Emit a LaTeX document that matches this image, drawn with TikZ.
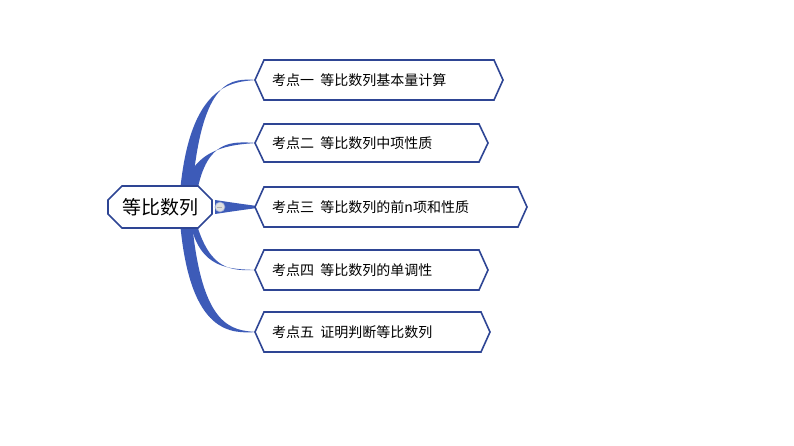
\documentclass[tikz,border=0pt]{standalone}
\usepackage{fontspec}
\newfontfamily\cjk{Noto Sans CJK SC}
\usetikzlibrary{shapes.misc}
\definecolor{br}{HTML}{3D5BB8}
\definecolor{bd}{HTML}{2E4594}
\tikzset{
  kid/.style={font=\cjk\fontsize{14}{16}\selectfont, anchor=west, inner sep=0pt},
  hexb/.style={draw=bd, line width=1.6pt, fill=white},
  br/.style={fill=br}
}
\newcommand{\hexat}[4]{% x1 x2 ycenter halfheight
  \path[hexb] (#1,#3) -- (#1+9,#3-#4) -- (#2-9,#3-#4) -- (#2,#3) -- (#2-9,#3+#4) -- (#1+9,#3+#4) -- cycle;}
\newcommand{\branch}[5]{% bx by tipx tipy halfwidth
  \fill[br] (#1-#5,#2) .. controls (#1-#5+10,#4+4) and (#3-25,#4+1.5) .. (#3,#4)
     .. controls (#3-25,#4-1.5) and (#1+#5+10,#4-4) .. (#1+#5,#2) -- cycle;}
\begin{document}
\begin{tikzpicture}[x=1pt,y=-1pt]
\useasboundingbox[fill=white] (0,0) rectangle (794,446);
% branches
\branch{186}{192}{257}{80}{6}
\branch{190}{192}{257}{143}{7}
\fill[br] (215,200) .. controls (235,203) .. (257,206) -- (257,208) .. controls (235,211) .. (215,214) -- cycle;
\fill[br] (190,222) .. controls (200,270) and (230,269) .. (257,270) .. controls (230,271) and (210,270) .. (196,222) -- cycle;
\branch{186}{222}{257}{332}{6}
% central
\node[chamfered rectangle, chamfered rectangle xsep=7pt, chamfered rectangle ysep=7pt, draw=bd, line width=1.6pt, fill=white, minimum width=104pt, minimum height=42pt, font=\cjk\fontsize{19}{22}\selectfont, inner sep=0pt] (c) at (160,207) {等比数列};
\node[circle, fill=gray!25, draw=br!60, line width=0.6pt, minimum size=10pt, inner sep=0pt] (k) at (220,207) {};
\draw[gray!60, line width=0.6pt] (k.west) ++(2.5,0) -- ++(5,0);
% children
\hexat{255}{503}{80}{20}
\hexat{255}{488}{143}{19}
\hexat{255}{527}{207}{20}
\hexat{255}{488}{270}{20}
\hexat{255}{490}{332}{20}
\node[kid] (k1) at (272,80) {考点一\ \ 等比数列基本量计算};
\node[kid] (k2) at (272,143) {考点二\ \ 等比数列中项性质};
\node[kid] (k3) at (272,207) {考点三\ \ 等比数列的前n项和性质};
\node[kid] (k4) at (272,270) {考点四\ \ 等比数列的单调性};
\node[kid] (k5) at (272,332) {考点五\ \ 证明判断等比数列};
\end{tikzpicture}
\end{document}
